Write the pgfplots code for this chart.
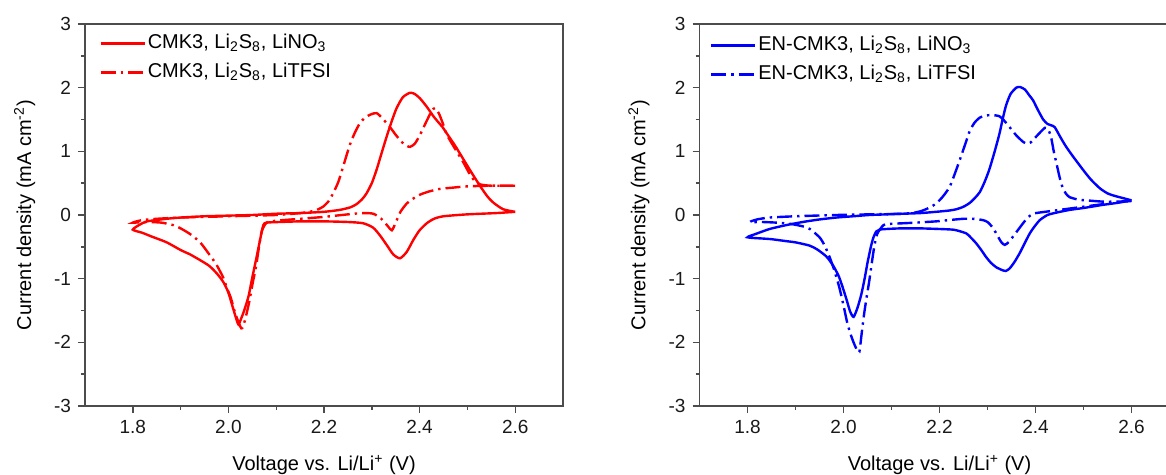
\documentclass[border=0pt]{standalone}
\usepackage{fontspec}
\setmainfont{Liberation Sans}
\usepackage{pgfplots}
\pgfplotsset{compat=1.18}
\pgfplotsset{
 cvstyle/.style={
  scale only axis, height=191pt,
  xmin=1.7, xmax=2.7, ymin=-3, ymax=3,
  xtick={1.8,2.0,2.2,2.4,2.6}, minor x tick num=1,
  ytick={-3,-2,...,3}, minor y tick num=1,
  tick pos=left, tick align=outside,
  major tick length=3.5pt, minor tick length=2pt,
  axis line style={black!70, line width=0.8pt},
  every tick/.style={black!70, line width=0.7pt},
  x tick label style={/pgf/number format/.cd, fixed, fixed zerofill, precision=1, assume math mode=true, /tikz/.cd},
  y tick label style={/pgf/number format/.cd, assume math mode=true, /tikz/.cd},
  tick label style={font=\fontsize{9.5}{11}\selectfont, black!90},
  label style={font=\fontsize{11}{13}\selectfont},
  xlabel={Voltage vs. Li/Li\textsuperscript{+} (V)},
  ylabel={Current density (mA cm\textsuperscript{-2})},
  every axis x label/.style={at={(axis description cs:0.5,-0.1545)}, anchor=center},
  every axis y label/.style={at={(axis description cs:-0.126,0.5)}, anchor=center, rotate=90},
  legend style={draw=none, fill=none, at={(axis description cs:0,1)}, anchor=north west, font=\fontsize{10}{12}\selectfont, row sep=2.5pt, inner sep=0pt, nodes={inner sep=1pt, text height=7.5pt, text depth=2.5pt}},
  legend cell align=left,
  legend image code/.code={\draw[#1] (0pt,0pt) -- (22pt,0pt);},
 },
 solidcv/.style={line width=1.2pt, smooth, tension=0.4},
 dashcv/.style={line width=1.2pt, smooth, tension=0.4, dash pattern=on 7.5pt off 2.5pt on 1.2pt off 2.5pt},
}
\begin{document}
\begin{tikzpicture}
\useasboundingbox (0,0) rectangle (583pt,237.5pt);
\begin{axis}[cvstyle, at={(42.5pt,34.5pt)}, anchor=south west, width=239pt, legend style={xshift=7pt, yshift=-3.5pt}]
\addplot[red, solidcv] coordinates {
(2.600,0.05) (2.56,0.03) (2.50,0.01) (2.45,-0.02) (2.43,-0.06) (2.415,-0.13) (2.40,-0.24) (2.387,-0.39) (2.373,-0.58) (2.359,-0.68) (2.345,-0.62) (2.332,-0.48) (2.318,-0.33) (2.303,-0.20) (2.282,-0.13) (2.25,-0.11) (2.2,-0.10) (2.15,-0.10) (2.107,-0.11) (2.08,-0.12) (2.073,-0.16) (2.066,-0.40) (2.059,-0.66) (2.05,-0.98) (2.042,-1.28) (2.033,-1.50) (2.026,-1.64) (2.021,-1.72) (2.016,-1.62) (2.008,-1.42) (2.0,-1.22) (1.99,-1.06) (1.976,-0.92) (1.96,-0.80) (1.941,-0.71) (1.92,-0.62) (1.90,-0.55) (1.871,-0.43) (1.84,-0.34) (1.82,-0.28) (1.80,-0.23)
(1.815,-0.15) (1.83,-0.10) (1.87,-0.06) (1.90,-0.04) (1.95,-0.02) (2.0,-0.01) (2.05,0.0) (2.1,0.02) (2.15,0.03) (2.2,0.05) (2.233,0.08) (2.255,0.12) (2.268,0.17) (2.28,0.25) (2.289,0.34) (2.30,0.50) (2.31,0.71) (2.32,0.96) (2.331,1.23) (2.342,1.48) (2.352,1.68) (2.365,1.85) (2.38,1.92) (2.39,1.90) (2.401,1.83) (2.415,1.70) (2.429,1.55) (2.44,1.45) (2.448,1.38) (2.457,1.28) (2.475,1.08) (2.492,0.87) (2.51,0.65) (2.527,0.45) (2.542,0.29) (2.555,0.19) (2.575,0.09) (2.6,0.05)
};
\addlegendentry{CMK3, Li\textsubscript{2}S\textsubscript{8}, LiNO\textsubscript{3}}
\addplot[red, dashcv] coordinates {
(2.6,0.46) (2.55,0.46) (2.5,0.45) (2.47,0.43) (2.443,0.41) (2.42,0.37) (2.401,0.32) (2.385,0.25) (2.373,0.18) (2.36,0.05) (2.35,-0.12) (2.342,-0.24) (2.334,-0.18) (2.32,-0.06) (2.303,0.02) (2.28,0.03) (2.25,0.01) (2.2,-0.03) (2.15,-0.06) (2.1,-0.09) (2.08,-0.12) (2.07,-0.25) (2.064,-0.5) (2.058,-0.8) (2.05,-1.1) (2.044,-1.35) (2.038,-1.55) (2.031,-1.75) (2.027,-1.78) (2.022,-1.7) (2.014,-1.54) (2.005,-1.3) (1.996,-1.13) (1.989,-0.98) (1.975,-0.78) (1.962,-0.64) (1.941,-0.43) (1.92,-0.30) (1.90,-0.21) (1.885,-0.16) (1.86,-0.12) (1.83,-0.11) (1.80,-0.12)
(1.82,-0.08) (1.85,-0.06) (1.9,-0.04) (2.0,-0.02) (2.1,0.0) (2.15,0.03) (2.17,0.05) (2.185,0.08) (2.198,0.13) (2.21,0.22) (2.219,0.34) (2.23,0.52) (2.24,0.76) (2.254,1.1) (2.265,1.3) (2.275,1.44) (2.286,1.53) (2.298,1.58) (2.31,1.60) (2.322,1.52) (2.338,1.38) (2.35,1.26) (2.362,1.15) (2.372,1.09) (2.38,1.07) (2.39,1.12) (2.401,1.26) (2.413,1.45) (2.425,1.63) (2.432,1.68) (2.44,1.6) (2.448,1.45) (2.457,1.26) (2.475,1.03) (2.492,0.82) (2.505,0.64) (2.515,0.54) (2.527,0.48) (2.55,0.46) (2.6,0.46)
};
\addlegendentry{CMK3, Li\textsubscript{2}S\textsubscript{8}, LiTFSI}
\end{axis}
\begin{axis}[cvstyle, at={(349.75pt,34.5pt)}, anchor=south west, width=240pt, legend style={xshift=5pt, yshift=-4.5pt}]
\addplot[blue, solidcv] coordinates {
(2.6,0.23) (2.57,0.19) (2.541,0.16) (2.5,0.11) (2.471,0.08) (2.445,0.04) (2.425,0.0) (2.409,-0.08) (2.398,-0.18) (2.388,-0.29) (2.377,-0.45) (2.367,-0.6) (2.356,-0.74) (2.346,-0.84) (2.338,-0.88) (2.332,-0.87) (2.318,-0.82) (2.307,-0.75) (2.297,-0.66) (2.287,-0.55) (2.277,-0.45) (2.266,-0.36) (2.256,-0.29) (2.24,-0.25) (2.228,-0.23) (2.2,-0.22) (2.159,-0.21) (2.12,-0.21) (2.089,-0.22) (2.075,-0.23) (2.068,-0.26) (2.062,-0.36) (2.057,-0.5) (2.05,-0.75) (2.044,-1.0) (2.037,-1.25) (2.029,-1.46) (2.021,-1.6) (2.014,-1.52) (2.006,-1.32) (1.998,-1.13) (1.99,-0.96) (1.978,-0.79) (1.964,-0.65) (1.945,-0.54) (1.929,-0.48) (1.9,-0.43) (1.88,-0.41) (1.85,-0.38) (1.832,-0.37) (1.80,-0.35)
(1.82,-0.29) (1.846,-0.22) (1.88,-0.16) (1.915,-0.11) (1.95,-0.07) (1.985,-0.04) (2.02,-0.02) (2.054,0.0) (2.09,0.01) (2.124,0.02) (2.16,0.03) (2.193,0.05) (2.22,0.07) (2.235,0.09) (2.25,0.13) (2.263,0.19) (2.274,0.27) (2.284,0.36) (2.294,0.52) (2.304,0.72) (2.315,1.0) (2.325,1.28) (2.332,1.52) (2.339,1.73) (2.348,1.9) (2.36,2.0) (2.368,2.01) (2.378,1.97) (2.387,1.88) (2.395,1.80) (2.405,1.65) (2.416,1.5) (2.425,1.43) (2.432,1.41) (2.44,1.38) (2.452,1.22) (2.464,1.07) (2.48,0.9) (2.499,0.71) (2.515,0.56) (2.534,0.42) (2.55,0.34) (2.565,0.30) (2.58,0.27) (2.6,0.23)
};
\addlegendentry{EN-CMK3, Li\textsubscript{2}S\textsubscript{8}, LiNO\textsubscript{3}}
\addplot[blue, dashcv] coordinates {
(2.6,0.22) (2.57,0.2) (2.54,0.17) (2.5,0.13) (2.46,0.09) (2.43,0.06) (2.41,0.04) (2.395,0.02) (2.384,-0.04) (2.374,-0.13) (2.364,-0.23) (2.353,-0.34) (2.345,-0.42) (2.336,-0.47) (2.329,-0.43) (2.322,-0.34) (2.311,-0.2) (2.3,-0.11) (2.29,-0.08) (2.27,-0.06) (2.249,-0.06) (2.22,-0.08) (2.193,-0.1) (2.15,-0.12) (2.124,-0.13) (2.095,-0.14) (2.083,-0.16) (2.07,-0.3) (2.064,-0.5) (2.059,-0.75) (2.054,-1.02) (2.048,-1.3) (2.043,-1.55) (2.038,-1.85) (2.033,-2.15) (2.028,-2.12) (2.022,-2.02) (2.016,-1.9) (2.008,-1.7) (2.0,-1.42) (1.991,-1.13) (1.98,-0.85) (1.97,-0.64) (1.96,-0.47) (1.95,-0.35) (1.93,-0.22) (1.916,-0.18) (1.89,-0.14) (1.86,-0.12) (1.83,-0.11) (1.805,-0.11)
(1.82,-0.07) (1.846,-0.04) (1.9,-0.02) (1.985,0.0) (2.054,0.01) (2.124,0.02) (2.15,0.04) (2.165,0.07) (2.18,0.12) (2.193,0.18) (2.207,0.29) (2.221,0.44) (2.232,0.65) (2.242,0.86) (2.253,1.1) (2.263,1.32) (2.273,1.45) (2.284,1.53) (2.295,1.56) (2.31,1.57) (2.325,1.55) (2.335,1.48) (2.346,1.38) (2.36,1.25) (2.374,1.15) (2.382,1.12) (2.39,1.14) (2.4,1.22) (2.41,1.3) (2.42,1.37) (2.427,1.34) (2.433,1.2) (2.438,1.0) (2.444,0.8) (2.45,0.6) (2.456,0.44) (2.463,0.34) (2.471,0.28) (2.49,0.24) (2.506,0.23) (2.54,0.21) (2.57,0.21) (2.6,0.22)
};
\addlegendentry{EN-CMK3, Li\textsubscript{2}S\textsubscript{8}, LiTFSI}
\end{axis}
\end{tikzpicture}
\end{document}
